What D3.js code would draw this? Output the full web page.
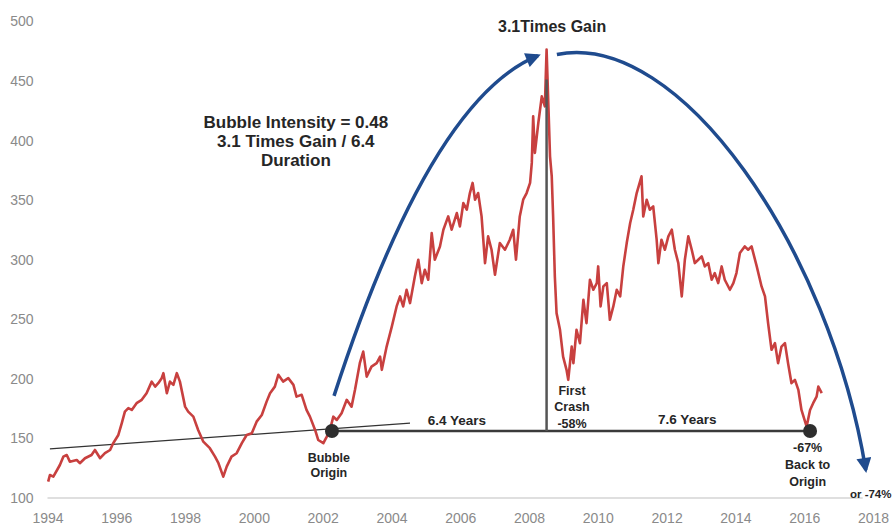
<!DOCTYPE html>
<html>
<head>
<meta charset="utf-8">
<script src="https://cdnjs.cloudflare.com/ajax/libs/d3/7.8.5/d3.min.js"></script>
<style>
  body{margin:0;background:#fff;}
  svg text{font-family:"Liberation Sans", Arial, Helvetica, sans-serif;}
</style>
</head>
<body>
<div class="chartDiv"></div>
<script>
//data (fractional year, index level)
var years = [
  1994.02,1994.07,1994.17,1994.36,1994.46,1994.56,1994.65,1994.85,1994.94,1995.09,
  1995.28,1995.38,1995.53,1995.67,1995.82,1995.91,1996.06,1996.16,1996.25,1996.35,
  1996.45,1996.59,1996.74,1996.88,1997.03,1997.13,1997.22,1997.32,1997.37,1997.47,
  1997.56,1997.66,1997.76,1997.85,1998.0,1998.09,1998.24,1998.38,1998.53,1998.72,
  1998.87,1998.97,1999.11,1999.21,1999.35,1999.5,1999.65,1999.79,1999.94,2000.08,
  2000.23,2000.37,2000.47,2000.61,2000.71,2000.85,2001.0,2001.15,2001.24,2001.39,
  2001.53,2001.63,2001.78,2001.87,2002.02,2002.12,2002.21,2002.31,2002.41,2002.55,
  2002.7,2002.84,2002.94,2003.08,2003.18,2003.28,2003.42,2003.57,2003.67,2003.72,
  2003.86,2004.01,2004.15,2004.25,2004.34,2004.44,2004.54,2004.68,2004.78,2004.88,
  2004.97,2005.07,2005.17,2005.26,2005.41,2005.51,2005.65,2005.75,2005.9,2005.99,
  2006.09,2006.19,2006.28,2006.36,2006.43,2006.52,2006.62,2006.72,2006.81,2006.91,
  2007.01,2007.15,2007.3,2007.44,2007.54,2007.62,2007.73,2007.83,2007.93,2008.03,
  2008.08,2008.12,2008.17,2008.27,2008.37,2008.46,2008.51,2008.61,2008.66,2008.7,
  2008.75,2008.8,2008.9,2008.99,2009.09,2009.14,2009.24,2009.29,2009.38,2009.48,
  2009.58,2009.67,2009.77,2009.87,2009.97,2010.01,2010.08,2010.16,2010.26,2010.35,
  2010.45,2010.55,2010.65,2010.74,2010.84,2010.94,2011.03,2011.13,2011.27,2011.32,
  2011.42,2011.51,2011.61,2011.71,2011.76,2011.85,2011.95,2012.05,2012.15,2012.24,
  2012.34,2012.44,2012.53,2012.63,2012.73,2012.82,2012.92,2013.02,2013.11,2013.21,
  2013.31,2013.4,2013.5,2013.6,2013.69,2013.84,2013.94,2014.03,2014.13,2014.27,
  2014.37,2014.47,2014.62,2014.76,2014.86,2014.95,2015.05,2015.15,2015.24,2015.34,
  2015.44,2015.53,2015.63,2015.73,2015.83,2015.92,2016.07,2016.17,2016.26,2016.36,
  2016.41,2016.51
];
var values = [
  113.7,119.3,117.9,127.7,134.7,136.1,130.5,131.9,129.2,133.4,
  136.1,140.3,133.4,137.6,140.3,146,152.9,162.8,172.5,175.4,
  173.9,179.6,182.4,188,197.7,193.5,196.4,200.6,204.8,188,
  197.7,195,204.8,197.7,176.7,172.5,168.3,157.1,147.3,141.8,
  134.7,129.2,117.9,126.3,134.7,137.6,146,152.9,154.4,164.1,
  169.7,180.9,188,193.5,203.4,197.7,200.6,195,185.1,186.6,
  173.9,168.3,157.1,148.7,146,151.5,157.1,168.3,165.5,171.2,
  182.4,176.7,190.8,213.2,222.9,201.9,210.3,213.2,218.7,207.6,
  227.1,243.9,260.8,269.2,260.8,274.8,263.6,286,300,280.4,
  291.6,283.2,322.4,300,311.2,325.2,336.4,325.2,339.2,328,
  347.6,342,356,364.5,350.4,356,336.4,297.2,319.6,308.4,
  287.4,314,308.4,316.8,325.2,300,336.4,350.4,356,364.5,
  381.3,420.4,389.7,414.9,437.2,428.8,476.5,386.8,370,336.4,
  286,255.2,241.2,218.7,207.6,199.2,227.1,213.2,241.2,230,
  266.4,246.8,283.2,274.8,280.4,294.4,260.8,277.6,280.4,249.6,
  260.8,274.8,269.2,294.4,314,330.8,342,356,370,336.4,
  350.4,342,344.8,316.8,297.2,316.8,308.4,319.6,325.2,308.4,
  297.2,269.2,300,319.6,308.4,297.2,300,302.8,294.4,297.2,
  283.2,288.8,280.4,294.4,283.2,274.8,280.4,288.8,305.6,311.2,
  308.4,311.2,294.4,277.6,269.2,246.8,224.4,230,213.2,227.1,
  230,213.2,196.4,199.2,190.8,173.9,159.9,173.9,179.6,185.1,
  193.5,188
];
var yearTicks  = [1994,1996,1998,2000,2002,2004,2006,2008,2010,2012,2014,2016,2018];
var valueTicks = [100,150,200,250,300,350,400,450,500];

//bubble markers: origin, peak, back to origin
var originYear = 2002.27, originValue = 156.3;
var peakYear   = 2008.51, peakValue   = 476.5;
var returnYear = 2016.17;
//thin trend line
var trendYears  = [1994.07, 2004.54];
var trendValues = [141.2, 162.8];
//arrow control points (year, value)
var upArc   = [[2002.33,185.7],[2005.12,434.5],[2008.26,471.4]];
var downArc = [[2008.81,472.3],[2012.39,493.3],[2016.75,308.4],[2017.79,123.5]];

//text notes: lines, year, value (first baseline), anchor, size, line height
var notes = [
  {lines:["3.1Times Gain"], year:2008.67, value:491.6, anchor:"middle", size:16, lh:0},
  {lines:["Bubble Intensity = 0.48","3.1 Times Gain / 6.4","Duration"], year:2001.22, value:410.9, anchor:"middle", size:17, lh:19},
  {lines:["6.4 Years"], year:2005.9, value:161.3, anchor:"middle", size:13.5, lh:0},
  {lines:["7.6 Years"], year:2012.6, value:162.2, anchor:"middle", size:13.5, lh:0},
  {lines:["First","Crash","-58%"], year:2009.25, value:186.6, anchor:"middle", size:12.5, lh:16.5},
  {lines:["Bubble","Origin"], year:2002.18, value:130.3, anchor:"middle", size:12.5, lh:15},
  {lines:["-67%","Back to","Origin"], year:2016.1, value:138.7, anchor:"middle", size:12.5, lh:17},
  {lines:["or -74%"], year:2017.33, value:100, anchor:"start", size:11.5, lh:0}
];

var width  = 892,
    height = 527;

var svg = d3.select(".chartDiv")
            .append("svg")
            .attr("width", width)
            .attr("height", height);

var x = d3.scaleLinear().domain([1994, 2018]).range([47.5, 873]);
var y = d3.scaleLinear().domain([100, 500]).range([498, 21.5]);

//axes
var xAxis = d3.axisBottom(x).tickValues(yearTicks).tickFormat(d3.format("d"))
              .tickSize(0).tickPadding(15);
var yAxis = d3.axisLeft(y).tickValues(valueTicks).tickSize(0).tickPadding(14);

var gx = svg.append("g").attr("transform", "translate(0," + y(100) + ")").call(xAxis);
var gy = svg.append("g").attr("transform", "translate(" + x(1994) + ",0)").call(yAxis);
gx.select(".domain").remove();
gy.select(".domain").remove();
svg.selectAll(".tick text").attr("fill", "#8a8a8a").style("font-size", "14px");

//base gridline
svg.append("line").attr("x1", x(1994)).attr("x2", x(2017.7))
   .attr("y1", y(100)).attr("y2", y(100))
   .attr("stroke", "#d4d4d4").attr("stroke-width", 1.5);

//trend line
svg.append("line").attr("x1", x(trendYears[0])).attr("y1", y(trendValues[0]))
   .attr("x2", x(trendYears[1])).attr("y2", y(trendValues[1]))
   .attr("stroke", "#333").attr("stroke-width", 1.2);

//price line
var line = d3.line().x(function(d){ return x(d[0]); }).y(function(d){ return y(d[1]); });
svg.append("path")
   .datum(d3.zip(years, values))
   .attr("d", line)
   .attr("fill", "none")
   .attr("stroke", "#c8403f")
   .attr("stroke-width", 2.6)
   .attr("stroke-linejoin", "round");

//duration lines
svg.append("line").attr("x1", x(originYear)).attr("x2", x(returnYear))
   .attr("y1", y(originValue)).attr("y2", y(originValue))
   .attr("stroke", "#3a3a3a").attr("stroke-width", 2.5);
svg.append("line").attr("x1", x(peakYear)).attr("x2", x(peakYear))
   .attr("y1", y(peakValue) + 30).attr("y2", y(originValue))
   .attr("stroke", "#555").attr("stroke-width", 2.5);

svg.selectAll("circle.dot")
   .data([originYear, returnYear])
   .enter().append("circle")
   .attr("class", "dot")
   .attr("cx", function(d){ return x(d); })
   .attr("cy", y(originValue))
   .attr("r", 7)
   .attr("fill", "#2e2e2e");

//arrows
var blue = "#1f4b8e";
svg.append("defs").append("marker")
   .attr("id", "head")
   .attr("viewBox", "0 0 10 10")
   .attr("refX", 8).attr("refY", 5)
   .attr("markerUnits", "userSpaceOnUse")
   .attr("markerWidth", 17).attr("markerHeight", 15)
   .attr("orient", "auto")
   .append("path").attr("d", "M0,0 L10,5 L0,10 z").attr("fill", blue);

var pt = function(p){ return [x(p[0]), y(p[1])]; };
var a = upArc.map(pt), b = downArc.map(pt);
var up = d3.path();
up.moveTo(a[0][0], a[0][1]);
up.quadraticCurveTo(a[1][0], a[1][1], a[2][0], a[2][1]);
var down = d3.path();
down.moveTo(b[0][0], b[0][1]);
down.bezierCurveTo(b[1][0], b[1][1], b[2][0], b[2][1], b[3][0], b[3][1]);

[up, down].forEach(function(p){
  svg.append("path").attr("d", p.toString())
     .attr("fill", "none").attr("stroke", blue)
     .attr("stroke-width", 3.5)
     .attr("marker-end", "url(#head)");
});

//notes
notes.forEach(function(n){
  var t = svg.append("text")
             .attr("x", x(n.year)).attr("y", y(n.value))
             .attr("text-anchor", n.anchor)
             .attr("font-weight", "bold")
             .attr("fill", "#262626")
             .style("font-size", n.size + "px");
  n.lines.forEach(function(s, i){
    t.append("tspan").attr("x", x(n.year)).attr("dy", i === 0 ? 0 : n.lh).text(s);
  });
});
</script>
</body>
</html>
